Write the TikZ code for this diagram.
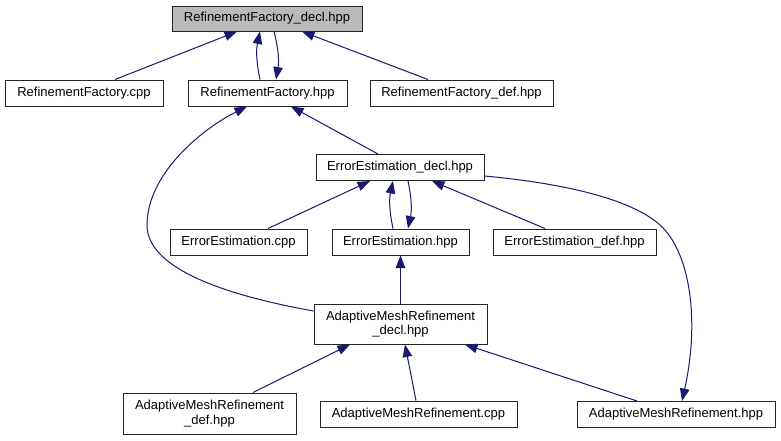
\documentclass[tikz,border=0pt]{standalone}
\usepackage{fontspec}
\setmainfont{Liberation Sans}
\usetikzlibrary{arrows.meta}
\definecolor{edgecol}{HTML}{191970}
\tikzset{
  box/.style={draw=black!85, line width=1pt, inner sep=0pt, align=center,
    font=\fontsize{13}{14.5}\selectfont, fill=white},
  edge/.style={draw=edgecol, line width=1pt, -{Triangle[length=12.5pt,width=9.5pt]}},
}
\begin{document}
\begin{tikzpicture}[x=1pt,y=-1pt]
\useasboundingbox[fill=white] (0,0) rectangle (781,440);
% nodes
\node[box, fill=black!27, minimum width=190, minimum height=25] (rfdecl) at (267,18.5) {RefinementFactory\_decl.hpp};
\node[box, minimum width=158, minimum height=26] (rfcpp) at (84,93) {RefinementFactory.cpp};
\node[box, minimum width=159, minimum height=26] (rfhpp) at (267.5,93) {RefinementFactory.hpp};
\node[box, minimum width=183, minimum height=26] (rfdef) at (461.5,93) {RefinementFactory\_def.hpp};
\node[box, minimum width=168, minimum height=26] (eedecl) at (400,167.5) {ErrorEstimation\_decl.hpp};
\node[box, minimum width=137, minimum height=26] (eecpp) at (238.5,242) {ErrorEstimation.cpp};
\node[box, minimum width=137, minimum height=26] (eehpp) at (400.5,242) {ErrorEstimation.hpp};
\node[box, minimum width=163, minimum height=26] (eedef) at (574.5,242) {ErrorEstimation\_def.hpp};
\node[box, minimum width=173, minimum height=40] (amrdecl) at (400.5,324) {AdaptiveMeshRefinement\\\_decl.hpp};
\node[box, minimum width=173, minimum height=41] (amrdef) at (209.5,413.5) {AdaptiveMeshRefinement\\\_def.hpp};
\node[box, minimum width=197, minimum height=26] (amrcpp) at (418.5,414) {AdaptiveMeshRefinement.cpp};
\node[box, minimum width=198, minimum height=26] (amrhpp) at (676,414.5) {AdaptiveMeshRefinement.hpp};
% edges
\draw[edge] ([xshift=31]rfcpp.north) -- ([xshift=-30]rfdecl.south);
\draw[edge] ([xshift=-7.5]rfhpp.north) to[bend left=12] ([xshift=-7]rfdecl.south);
\draw[edge] ([xshift=7]rfdecl.south) to[bend left=12] ([xshift=8.5]rfhpp.north);
\draw[edge] ([xshift=-33.5]rfdef.north) -- ([xshift=35]rfdecl.south);
\draw[edge] ([xshift=-22]eedecl.north) -- ([xshift=23.5]rfhpp.south);
\draw[edge] ([yshift=13]amrdecl.west) .. controls (230,296) and (147,270) .. (147,225)
  .. controls (147,175) and (200,130) .. ([xshift=-20.5]rfhpp.south);
\draw[edge] ([xshift=29.5]eecpp.north) -- ([xshift=-30]eedecl.south);
\draw[edge] ([xshift=-7.5]eehpp.north) to[bend left=12] ([xshift=-7]eedecl.south);
\draw[edge] ([xshift=8]eedecl.south) to[bend left=12] ([xshift=7.5]eehpp.north);
\draw[edge] ([xshift=-29.5]eedef.north) -- ([xshift=32]eedecl.south);
\draw[edge] ([yshift=-8.5]eedecl.east) .. controls (560,183) and (630,198) .. (660,225)
  .. controls (690,252) and (700,320) .. ([xshift=6]amrhpp.north);
\draw[edge] (amrdecl.north) -- (eehpp.south);
\draw[edge] ([xshift=43.5]amrdef.north) -- ([xshift=-50.5]amrdecl.south);
\draw[edge] ([xshift=-2.5]amrcpp.north) -- ([xshift=4.5]amrdecl.south);
\draw[edge] ([xshift=-39]amrhpp.north) -- ([xshift=64.5]amrdecl.south);
\end{tikzpicture}
\end{document}
